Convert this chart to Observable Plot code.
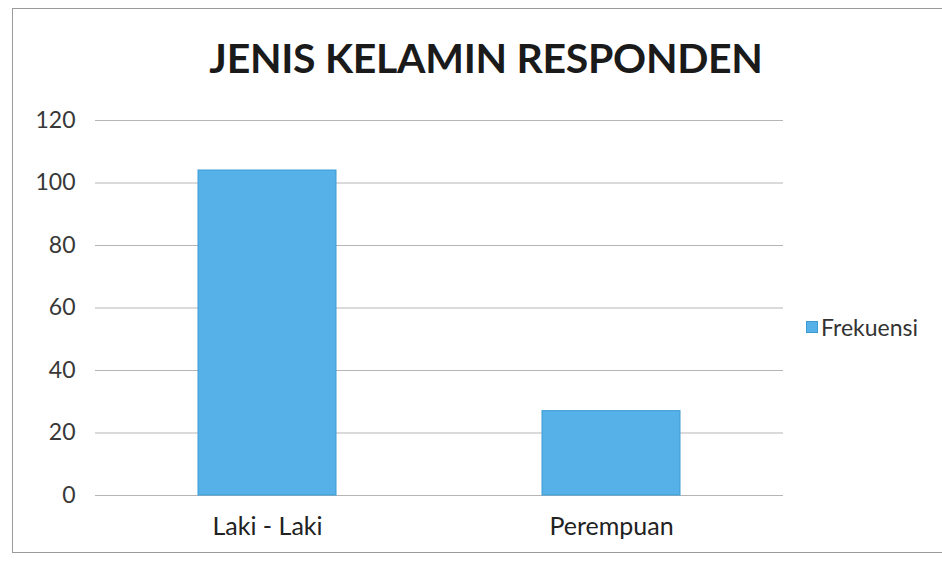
<!DOCTYPE html>
<html>
<head>
<meta charset="utf-8">
<script src="https://cdn.jsdelivr.net/npm/d3@7"></script>
<script src="https://cdn.jsdelivr.net/npm/@observablehq/plot@0.6"></script>
<style>
  html, body { margin: 0; padding: 0; background: #fff; }
  #wrap { position: relative; width: 942px; height: 562px; overflow: hidden; font-family: Lato, "Open Sans", sans-serif; }
  #frame { position: absolute; left: 12px; top: 8px; width: 940px; height: 545px; border: 1.5px solid #9a9a9a; box-sizing: border-box; }
  #title { position: absolute; left: 0; width: 972px; top: 33px; text-align: center; font-size: 41px; font-weight: bold; color: #1a1a1a; letter-spacing: -0.3px; }
  #legend { position: absolute; left: 806px; top: 313px; font-size: 23px; color: #333; display: flex; align-items: center; }
  #legend .sw { width: 12px; height: 12px; background: #56b1e8; border: 1px solid #3d9bd3; margin-right: 3px; box-sizing: border-box; }
  #chart { position: absolute; left: 0; top: 0; }
</style>
</head>
<body>
<div id="wrap">
  <div id="frame"></div>
  <div id="chart"></div>
  <div id="title">JENIS KELAMIN RESPONDEN</div>
  <div id="legend"><span class="sw"></span><span>Frekuensi</span></div>
</div>
<script>
const categories = ["Laki - Laki", "Perempuan"];
const frekuensi = [104, 27];
const yTicks = [0, 20, 40, 60, 80, 100, 120];
const seriesName = "Frekuensi";

const data = categories.map((c, i) => ({category: c, value: frekuensi[i], series: seriesName}));

const plot = Plot.plot({
  width: 942,
  height: 562,
  marginTop: 120,
  marginBottom: 67,
  marginLeft: 95,
  marginRight: 159,
  style: {background: "transparent", fontFamily: "Lato, 'Open Sans', sans-serif", color: "#404040"},
  x: {domain: categories, paddingInner: 0.6, paddingOuter: 0.3, label: null},
  y: {domain: [0, 120], ticks: yTicks, label: null},
  marks: [
    Plot.gridY(yTicks, {stroke: "#b5b5b5", strokeOpacity: 1, strokeWidth: 1}),
    Plot.barY(data, {x: "category", y: "value", fill: "#56b1e8", stroke: "#3d9bd3", strokeWidth: 1}),
    Plot.axisY(yTicks, {tickSize: 0, tickPadding: 20, fontSize: 23, fill: "#383838", label: null}),
    Plot.axisX({tickSize: 0, tickPadding: 22, fontSize: 25, fill: "#222", label: null})
  ]
});
document.getElementById("chart").appendChild(plot);
</script>
</body>
</html>
